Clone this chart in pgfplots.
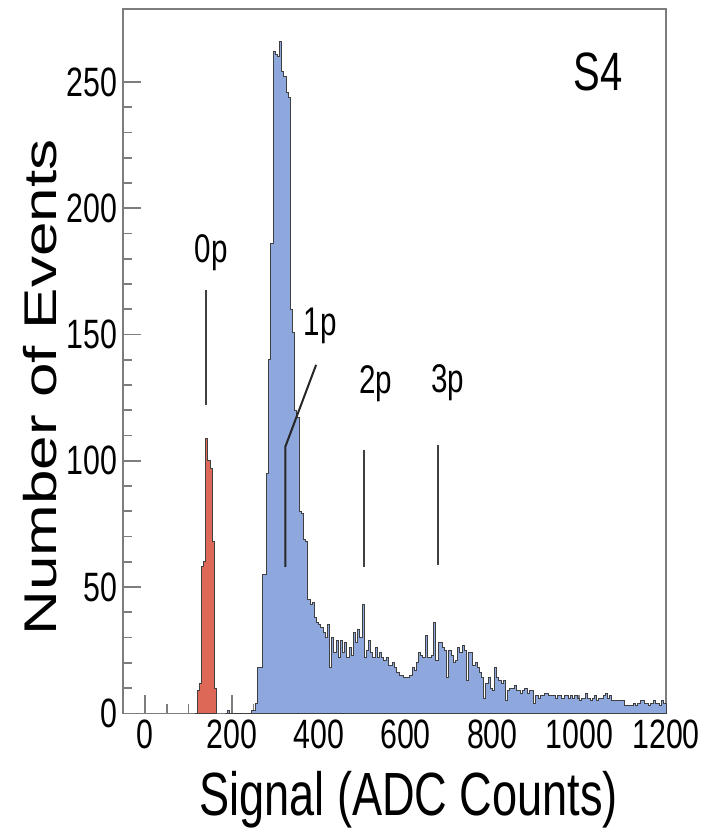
\documentclass[border=0pt]{standalone}
\usepackage{fontspec}
\setmainfont[FakeStretch=0.74]{Liberation Sans}
\newfontfamily\ylabfont{Liberation Sans}
\usepackage{graphicx}
\usepackage{pgfplots}
\usepackage{pgfplotstable}
\pgfplotsset{compat=1.18}
\definecolor{histblue}{RGB}{142,168,221}
\definecolor{histred}{RGB}{222,104,88}
\definecolor{framegray}{RGB}{125,125,125}

\pgfplotstableread{
x y
115 0
120 9
125 12
130 58
135 60
140 109
145 100
150 97
155 68
160 10
165 0
}\redhist

\pgfplotstableread{
x y
185 0
190 1
195 0
245 1
250 1
255 4
260 18
265 18
270 55
275 55
280 95
285 140
290 186
295 262
300 261
305 260
310 266
315 254
320 252
325 246
330 244
335 160
340 151
345 120
350 117
355 80
360 79
365 69
370 68
375 45
380 43
385 44
390 38
395 36
400 35
405 34
410 32
415 30
420 35
425 18
430 30
435 24
440 29
445 22
450 29
455 24
460 28
465 22
470 26
475 23
480 32
485 28
490 33
495 30
500 43
505 22
510 25
515 29
520 24
525 22
530 26
535 22
540 24
545 22
550 21
555 22
560 19
565 19
570 20
575 18
580 16
585 15
590 15
595 14
600 14
605 14
610 15
615 18
620 17
625 20
630 24
635 23
640 22
645 31
650 22
655 22
660 23
665 36
670 21
675 28
680 28
685 26
690 25
695 14
700 25
705 23
710 20
715 21
720 26
725 24
730 27
735 25
740 13
745 24
750 24
755 19
760 20
765 18
770 16
775 14
780 6
785 12
790 14
795 10
800 9
805 18
810 14
815 13
820 12
825 13
830 5
835 9
840 10
845 10
850 11
855 9
860 9
865 8
870 9
875 10
880 8
885 9
890 9
895 4
900 7
905 6
910 7
915 7
920 8
925 8
930 7
935 7
940 7
945 6
950 7
955 7
960 6
965 7
970 7
975 6
980 7
985 6
990 7
995 6
1000 5
1005 6
1010 6
1015 8
1020 6
1025 5
1030 6
1035 7
1040 5
1045 6
1050 6
1055 7
1060 8
1065 6
1070 7
1075 5
1080 5
1085 5
1090 5
1095 5
1100 5
1105 3
1110 3
1115 3
1120 3
1125 4
1130 3
1135 4
1140 5
1145 5
1150 4
1155 4
1160 3
1165 4
1170 5
1175 4
1180 4
1185 3
1190 5
1195 4
1200 4
}\bluehist

\begin{document}
\begin{tikzpicture}
\begin{axis}[
  scale only axis, width=271.4pt, height=352pt,
  xmin=-50, xmax=1200, ymin=0, ymax=278.8,
  axis line style={framegray, line width=0.8pt},
  tick pos=left, tick align=inside,
  xtick={0,200,...,1200}, minor x tick num=3,
  ytick={0,50,...,250}, minor y tick num=4,
  major tick length=9pt, minor tick length=4.5pt,
  tick style={framegray, line width=0.8pt},
  /pgf/number format/assume math mode=true,
  /pgf/number format/1000 sep={},
  scaled ticks=false,
  ticklabel style={font=\fontsize{20.5}{24}\selectfont},
  yticklabel style={xshift=0.5pt},
  xlabel={Signal (ADC Counts)},
  xlabel style={font=\fontsize{30.5}{34}\selectfont, at={(axis description cs:0.5255,-0.123)}, anchor=center},
  ylabel={\scalebox{1}[0.74]{\ylabfont\fontsize{31}{36}\selectfont Number of Events}},
  ylabel style={at={(axis description cs:-0.1537,0.4628)}, anchor=center},
  clip=false,
]
\addplot[const plot, fill=histred, draw=black!75, line width=0.5pt] table[x=x,y=y] {\redhist} \closedcycle;
\addplot[const plot, fill=histblue, draw=black!75, line width=0.5pt] table[x=x,y=y] {\bluehist} \closedcycle;

\draw[black!75, line width=1pt] (axis cs:140.8,167.6) -- (axis cs:140.8,122);
\draw[black!85, line width=1pt] (axis cs:394,138) -- (axis cs:323,105.5) -- (axis cs:323,58);
\draw[black!75, line width=1pt] (axis cs:505,104.3) -- (axis cs:505,58);
\draw[black!75, line width=1pt] (axis cs:674,106.3) -- (axis cs:674,58.7);

\node[font=\fontsize{20}{22}\selectfont, anchor=center] at (axis cs:152,182.6) {0p};
\node[font=\fontsize{20}{22}\selectfont, anchor=center] at (axis cs:404,153.5) {1p};
\node[font=\fontsize{20}{22}\selectfont, anchor=center] at (axis cs:531,130.4) {2p};
\node[font=\fontsize{20}{22}\selectfont, anchor=center] at (axis cs:697,130.8) {3p};
\node[font=\fontsize{27}{30}\selectfont, anchor=center] at (axis cs:1043,254) {S4};
\end{axis}
\path (current axis.south west) ++(-61.65pt,-60.85pt);
\path (current axis.north east) ++(21pt,4.65pt);
\end{tikzpicture}
\end{document}
